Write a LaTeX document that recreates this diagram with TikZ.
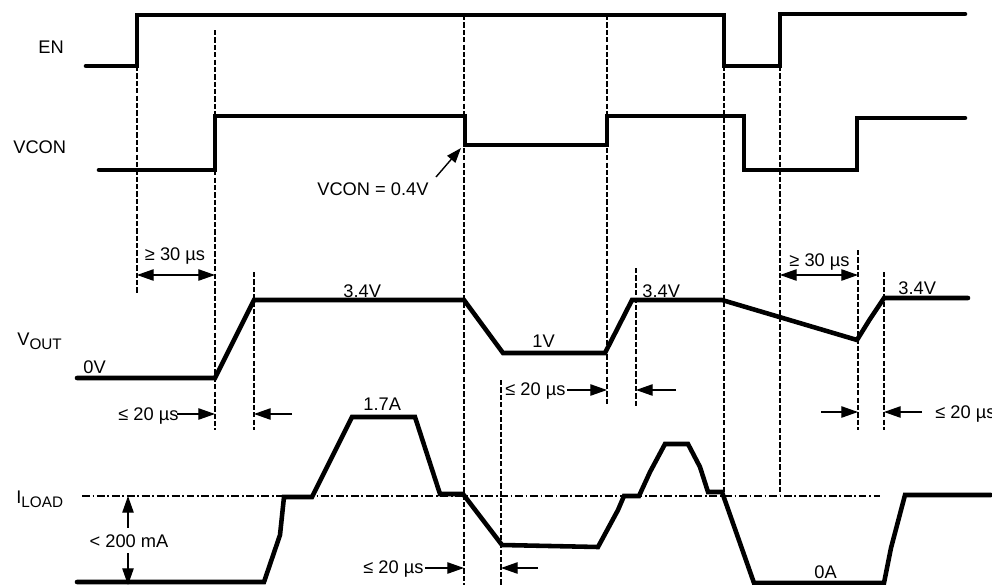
\documentclass[tikz,border=0pt]{standalone}
\usepackage{fontspec}
\setmainfont{Liberation Sans}
\usetikzlibrary{arrows.meta}
\begin{document}
\begin{tikzpicture}[x=0.02cm,y=-0.02cm,
  wave/.style={line width=2.6pt, line cap=round, line join=miter},
  guide/.style={line width=0.6pt, dash pattern=on 3pt off 1.2pt},
  refl/.style={line width=0.6pt, dash pattern=on 4.5pt off 1.5pt on 1pt off 1.5pt},
  dimarrow/.style={line width=0.7pt, -{Triangle[length=9.5pt,width=6.5pt]}},
  ddimarrow/.style={line width=0.7pt, {Triangle[length=9.5pt,width=6.5pt]}-{Triangle[length=9.5pt,width=6.5pt]}},
  callout/.style={line width=0.8pt, -{Triangle[length=8.5pt,width=6pt]}},
  lbl/.style={inner sep=0pt, font=\fontsize{10.4pt}{12pt}\selectfont},
]
\useasboundingbox (0,0) rectangle (992,585);

% dashed guide lines
\draw[guide] (137,66) -- (137,294);
\draw[guide] (215,30) -- (215,430);
\draw[guide] (254,272) -- (254,430);
\draw[guide] (464,15) -- (464,585);
\draw[guide] (501,380) -- (501,585);
\draw[guide] (607,15) -- (607,405);
\draw[guide] (636,268) -- (636,408);
\draw[guide] (724,66) -- (724,494);
\draw[guide] (780,66) -- (780,494);
\draw[guide] (858,250) -- (858,430);
\draw[guide] (884,272) -- (884,430);

% ILOAD reference level
\draw[refl] (82,496) -- (880,496);

% waveforms
\draw[wave] (86,66) -- (137,66) -- (137,15) -- (724,15) -- (724,66) -- (780,66) -- (780,14) -- (965,14);
\draw[wave] (99,170) -- (215,170) -- (215,116) -- (465,116) -- (465,145) -- (607,145) -- (607,116) -- (744,116) -- (744,170) -- (857,170) -- (857,118) -- (965,118);
\draw[wave] (77,378) -- (215,378) -- (254,300) -- (464,300) -- (503,353) -- (605,353) -- (632,300) -- (722,300) -- (857,340) -- (870,319) -- (884,298) -- (968,298);
\draw[wave] (77,582) -- (264,582) -- (280,535) -- (284,497) -- (312,497) -- (352,417) -- (415,417) -- (440,494) -- (463,494) -- (502,545) -- (598,547) -- (618,510) -- (624,496) -- (639,496) -- (650,472) -- (665,444) -- (688,444) -- (700,467) -- (708,492) -- (722,492) -- (754,583) -- (884,583) -- (891,548) -- (905,495) -- (991,495);

% labels
\node[lbl,anchor=base west] (en) at (38,53) {EN};
\node[lbl,anchor=base west] (vcon) at (13,153) {VCON};
\node[lbl,anchor=base west] (vout) at (17,345) {V\raisebox{-2.3pt}{\fontsize{8.7pt}{10pt}\selectfont OUT}};
\node[lbl,anchor=base west] (iload) at (16,503) {I\raisebox{-2.6pt}{\fontsize{8.7pt}{10pt}\selectfont LOAD}};

\node[lbl,anchor=base] (t30a) at (175,260) {≥ 30 µs};
\node[lbl,anchor=base] (t30b) at (819.5,266) {≥ 30 µs};
\node[lbl,anchor=base west] (v34a) at (343,297) {3.4V};
\node[lbl,anchor=base west] (v1) at (532,347) {1V};
\node[lbl,anchor=base west] (v34b) at (642,297) {3.4V};
\node[lbl,anchor=base west] (v34c) at (898,294) {3.4V};
\node[lbl,anchor=base west] (v0) at (83,373) {0V};
\node[lbl,anchor=base west] (t20a) at (118,420) {≤ 20 µs};
\node[lbl,anchor=base west] (t20b) at (505,395) {≤ 20 µs};
\node[lbl,anchor=base west] (t20c) at (935,418) {≤ 20 µs};
\node[lbl,anchor=base west] (t20d) at (363,573) {≤ 20 µs};
\node[lbl,anchor=base west] (a17) at (363,410) {1.7A};
\node[lbl,anchor=base west] (a0) at (814,578) {0A};
\node[lbl,anchor=base west] (vc04) at (317,195) {VCON = 0.4V};

% arrow end points
\coordinate (d1a) at (137,275); \coordinate (d1b) at (215,275);
\coordinate (d2a) at (780,275); \coordinate (d2b) at (858,275);
\coordinate (l1a) at (177,414); \coordinate (l1b) at (215,414);
\coordinate (l2a) at (292,414); \coordinate (l2b) at (254,414);
\coordinate (m1a) at (567,390); \coordinate (m1b) at (607,390);
\coordinate (m2a) at (676,390); \coordinate (m2b) at (636,390);
\coordinate (r1a) at (821,412); \coordinate (r1b) at (858,412);
\coordinate (r2a) at (922,412); \coordinate (r2b) at (884,412);
\coordinate (b1a) at (425,568); \coordinate (b1b) at (464,568);
\coordinate (b2a) at (538,568); \coordinate (b2b) at (501,568);
\coordinate (ia) at (128,496); \coordinate (ib) at (128,585);
\coordinate (ca) at (436,177); \coordinate (cb) at (461,148);

\draw[ddimarrow] (d1a) -- (d1b);
\draw[ddimarrow] (d2a) -- (d2b);
\draw[dimarrow] (l1a) -- (l1b);
\draw[dimarrow] (l2a) -- (l2b);
\draw[dimarrow] (m1a) -- (m1b);
\draw[dimarrow] (m2a) -- (m2b);
\draw[dimarrow] (r1a) -- (r1b);
\draw[dimarrow] (r2a) -- (r2b);
\draw[dimarrow] (b1a) -- (b1b);
\draw[dimarrow] (b2a) -- (b2b);
\draw[ddimarrow] (ia) -- (ib);
\draw[callout] (ca) -- (cb);

\node[lbl,anchor=base,fill=white,inner xsep=1pt,inner ysep=3.5pt] (ma) at (129,547) {< 200 mA};
\end{tikzpicture}
\end{document}
